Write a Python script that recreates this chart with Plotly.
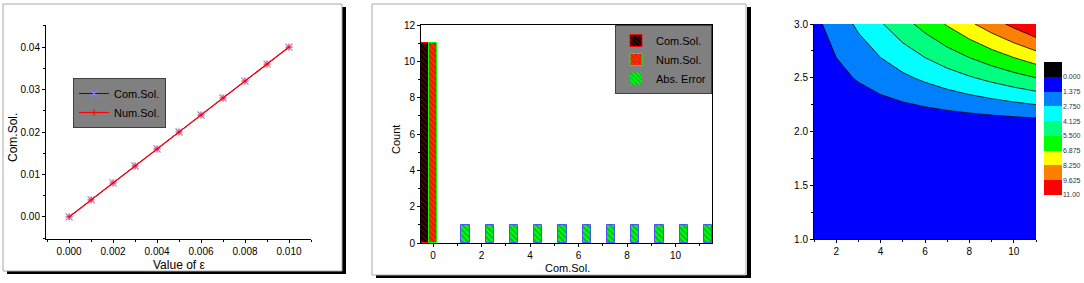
import plotly.graph_objects as go

W, H = 1084, 283
def px(x):
    return x / W
def py(y):
    return 1 - y / H

# ---------------- data ----------------
eps = [0.000, 0.001, 0.002, 0.003, 0.004, 0.005, 0.006, 0.007, 0.008, 0.009, 0.010]
com_sol = [0.000, 0.004, 0.008, 0.012, 0.016, 0.020, 0.024, 0.028, 0.032, 0.036, 0.040]
num_sol = [0.000, 0.004, 0.008, 0.012, 0.016, 0.020, 0.024, 0.028, 0.032, 0.036, 0.040]

bins = [0, 1, 2, 3, 4, 5, 6, 7, 8, 9, 10, 11]
count_com = [11, 0, 0, 0, 0, 0, 0, 0, 0, 0, 0, 0]
count_num = [11, 0, 0, 0, 0, 0, 0, 0, 0, 0, 0, 0]
count_err = [0, 1, 1, 1, 1, 1, 1, 1, 1, 1, 1, 1]

cx = [1, 2, 3, 4, 5, 6, 7, 8, 9, 10, 11]
cy = [1.0, 1.5, 2.0, 2.5, 3.0]
cz = [
    [0, 0, 0, 0, 0, 0, 0, 0, 0, 0, 0],
    [0, 0, 0, 0, 0, 0, 0, 0, 0, 0, 0],
    [0, 0, 0, 0, 0, 0, 0, 0, 0, 0, 0],
    [0.5, 1.0, 1.5, 2.0, 2.5, 3.0, 3.5, 4.0, 4.5, 5.0, 5.5],
    [1, 2, 3, 4, 5, 6, 7, 8, 9, 10, 11],
]
levels = [0.000, 1.375, 2.750, 4.125, 5.500, 6.875, 8.250, 9.625, 11.00]
level_labels = ["0.000", "1.375", "2.750", "4.125", "5.500", "6.875", "8.250", "9.625", "11.00"]
band_colors = ["#000000", "#0000ff", "#0080ff", "#00ffff", "#00ff80",
               "#00ff00", "#ffff00", "#ff8000", "#ff0000"]

FONT = "Arial, Liberation Sans, sans-serif"

fig = go.Figure()

# ---------------- panel 1: line chart ----------------
fig.add_trace(go.Scatter(
    x=eps, y=com_sol, name="Com.Sol.", mode="lines+markers",
    line=dict(color="#0000ff", width=1),
    marker=dict(symbol="x-thin-open", size=7, color="#8080ff", line=dict(width=1.2, color="#8080ff")),
    xaxis="x", yaxis="y", legend="legend"))
fig.add_trace(go.Scatter(
    x=eps, y=num_sol, name="Num.Sol.", mode="lines+markers",
    line=dict(color="#ff0000", width=1.2),
    marker=dict(symbol="cross-thin-open", size=5, color="#ff0000", line=dict(width=1, color="#ff0000")),
    xaxis="x", yaxis="y", legend="legend"))

# ---------------- panel 2: bar chart ----------------
def lw(vals):
    return [1 if v > 0 else 0 for v in vals]

fig.add_trace(go.Bar(
    x=bins, y=count_com, name="Com.Sol.", xaxis="x2", yaxis="y2", legend="legend2",
    marker=dict(color="#000000", line=dict(color="#ff0000", width=lw(count_com)),
                pattern=dict(shape="\\", fgcolor="#c00000", size=4, solidity=0.45))))
fig.add_trace(go.Bar(
    x=bins, y=count_num, name="Num.Sol.", xaxis="x2", yaxis="y2", legend="legend2",
    marker=dict(color="#ff3000", line=dict(color="#00ff00", width=lw(count_num)),
                pattern=dict(shape="\\", fgcolor="#b00000", size=4, solidity=0.4))))
fig.add_trace(go.Bar(
    x=bins, y=count_err, name="Abs. Error", xaxis="x2", yaxis="y2", legend="legend2",
    marker=dict(color="#00ff00", line=dict(color="#5050ff", width=lw(count_err)),
                pattern=dict(shape="\\", fgcolor="#006080", size=4, solidity=0.4))))

# ---------------- panel 3: contour ----------------
n = len(band_colors) - 1
scale = []
for i, c in enumerate(band_colors[1:]):
    scale.append([i / n, c])
    scale.append([(i + 1) / n, c])
fig.add_trace(go.Contour(
    x=cx, y=cy, z=cz, xaxis="x3", yaxis="y3", showscale=False,
    colorscale=scale, zmin=levels[0], zmax=levels[-1], zauto=False,
    contours=dict(start=levels[1], end=levels[-2], size=levels[1] - levels[0], coloring="fill"),
    line=dict(color="#000000", width=0.8, smoothing=0), hoverinfo="skip"))

# colour key (heatmap on its own axis)
kscale = []
m = len(band_colors)
for i, c in enumerate(band_colors):
    kscale.append([i / m, c])
    kscale.append([(i + 1) / m, c])
key_edges = [levels[0] - (levels[1] - levels[0])] + levels
fig.add_trace(go.Heatmap(
    x=[0, 1], y=key_edges, z=[[i] for i in range(m)],
    colorscale=kscale, zmin=-0.5, zmax=m - 0.5, showscale=False,
    xaxis="x4", yaxis="y4", hoverinfo="skip"))

tickfont = dict(family=FONT, size=10, color="#000000")
ax_common = dict(showgrid=False, zeroline=False, showline=True, linecolor="#000000",
                 linewidth=1, ticks="outside", ticklen=3, tickcolor="#000000",
                 tickfont=tickfont, automargin=False)
minor = lambda d: dict(dtick=d, ticklen=2, ticks="outside", tickcolor="#000000")

fig.update_layout(
    width=W, height=H, margin=dict(l=0, r=0, t=0, b=0),
    paper_bgcolor="#ffffff", plot_bgcolor="#ffffff",
    font=dict(family=FONT, color="#000000"),
    barmode="group", bargap=0, bargroupgap=0,
    xaxis=dict(domain=[px(46), px(311)], range=[-0.00105, 0.011], anchor="y",
               tick0=0, dtick=0.002, tickformat=".3f", minor=minor(0.001), **ax_common),
    yaxis=dict(domain=[py(239), py(25)], range=[-0.0052, 0.0452], anchor="x",
               tick0=0, dtick=0.01, tickformat=".2f", minor=minor(0.005), **ax_common),
    xaxis2=dict(domain=[px(421), px(712)], range=[-0.5, 11.5], anchor="y2", mirror=True,
                tick0=0, dtick=2, minor=minor(1), **ax_common),
    yaxis2=dict(domain=[py(243), py(25)], range=[0, 12], anchor="x2", mirror=True,
                tick0=0, dtick=2, minor=minor(1), **ax_common),
    xaxis3=dict(domain=[px(814), px(1036)], range=[1, 11], anchor="y3",
                tick0=0, dtick=2, minor=minor(1), **ax_common),
    yaxis3=dict(domain=[py(239), py(24)], range=[1, 3], anchor="x3",
                tick0=1, dtick=0.5, tickformat=".1f", minor=minor(0.25), **ax_common),
    xaxis4=dict(domain=[px(1044), px(1062)], range=[0, 1], anchor="y4", visible=False),
    yaxis4=dict(domain=[py(195), py(62)], range=[levels[-1], key_edges[0]], anchor="x4",
                side="right", tickvals=levels, ticktext=level_labels, ticks="",
                showgrid=False, zeroline=False, showline=False, automargin=False,
                tickfont=dict(family=FONT, size=7, color="#333333")),
    legend=dict(x=px(73), y=py(78), xanchor="left", yanchor="top",
                bgcolor="#808080", bordercolor="#404040", borderwidth=1,
                font=dict(family=FONT, size=11, color="#000000"), tracegroupgap=0),
    legend2=dict(x=px(712), y=py(25), xanchor="right", yanchor="top",
                 bgcolor="#808080", bordercolor="#404040", borderwidth=1,
                 font=dict(family=FONT, size=11, color="#000000"), tracegroupgap=0),
)

# axis titles
ann = [
    dict(text="Value of ε", x=px(179), y=py(265), size=12, angle=0),
    dict(text="Com.Sol.", x=px(13), y=py(138), size=12, angle=-90),
    dict(text="Count", x=px(396), y=py(140), size=11, angle=-90),
    dict(text="Com.Sol.", x=px(567), y=py(268), size=11, angle=0),
]
for a in ann:
    fig.add_annotation(text=a["text"], x=a["x"], y=a["y"], xref="paper", yref="paper",
                       xanchor="center", yanchor="middle",
                       showarrow=False, textangle=a["angle"],
                       font=dict(family=FONT, size=a["size"], color="#000000"))

# panel frames with drop shadows
def rect(x0, y0, x1, y1, **kw):
    fig.add_shape(type="rect", xref="paper", yref="paper",
                  x0=px(x0), x1=px(x1), y0=py(y1), y1=py(y0), layer="below", **kw)

# panel 1
rect(342, 7, 346, 274, fillcolor="#000000", line=dict(width=0))
rect(7, 271, 346, 274, fillcolor="#000000", line=dict(width=0))
rect(3, 4, 342, 271, line=dict(color="#a8a8a8", width=1), fillcolor="rgba(0,0,0,0)")
# panel 2
rect(747, 7, 751, 278, fillcolor="#000000", line=dict(width=0))
rect(376, 275, 751, 278, fillcolor="#000000", line=dict(width=0))
rect(372, 4, 746, 275, line=dict(color="#a8a8a8", width=1), fillcolor="rgba(0,0,0,0)")

fig.write_html("out.html", config={"displayModeBar": False},
               post_script="document.body.style.margin='0';")
